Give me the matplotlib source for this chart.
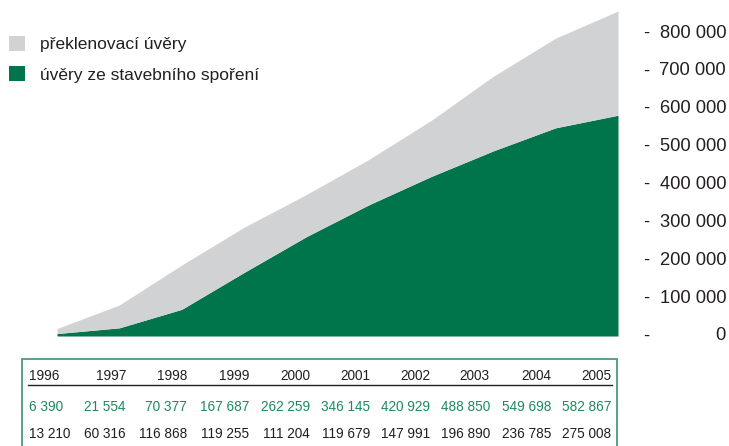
import matplotlib
matplotlib.use("Agg")
import matplotlib.pyplot as plt
from matplotlib.patches import Patch, Rectangle
from matplotlib.lines import Line2D
from matplotlib.transforms import blended_transform_factory

plt.rcParams["font.family"] = ["Liberation Sans", "DejaVu Sans"]

years = [1996, 1997, 1998, 1999, 2000, 2001, 2002, 2003, 2004, 2005]
stavebni = [6390, 21554, 70377, 167687, 262259, 346145, 420929, 488850, 549698, 582867]
preklenovaci = [13210, 60316, 116868, 119255, 111204, 119679, 147991, 196890, 236785, 275008]
ytick_values = [0, 100000, 200000, 300000, 400000, 500000, 600000, 700000, 800000, 900000]
series_labels = ["překlenovací úvěry", "úvěry ze stavebního spoření"]

GREEN = "#00744a"
GREY = "#d1d2d4"
TEXT_GREEN = "#1e8a5c"
FRAME = "#4a9c7c"
INK = "#231f20"

W, H = 729, 446
fig = plt.figure(figsize=(W / 100, H / 100), dpi=100)


def fx(px):
    return px / W


def fy(py):
    return 1 - py / H


# plot area: 1996 at x=57 px, 2005 at x=618 px; baseline at y=341 px
ax = fig.add_axes([fx(57), fy(341), fx(618) - fx(57), fy(0) - fy(341)])
ax.set_xlim(years[0], years[-1])
scale = (336 - 33) / 800000.0
ax.set_ylim(-5 / scale, 336 / scale)

total = [a + b for a, b in zip(stavebni, preklenovaci)]
ax.fill_between(years, 0, stavebni, color=GREEN, linewidth=0)
ax.fill_between(years, stavebni, total, color=GREY, linewidth=0)
ax.set_axis_off()

# right-hand value scale
tr = blended_transform_factory(fig.transFigure, ax.transData)
for v in ytick_values:
    ax.text(fx(643), v, "-", transform=tr, ha="left", va="center",
            fontsize=13.2, color=INK, clip_on=False)
    ax.text(fx(726), v, f"{v:,}".replace(",", " "), transform=tr,
            ha="right", va="center", fontsize=13.2, color=INK, clip_on=False)

# legend
handles = [Patch(facecolor=GREY, edgecolor="none"), Patch(facecolor=GREEN, edgecolor="none")]
fig.legend(handles, series_labels, loc="upper left", bbox_to_anchor=(fx(9), fy(36)),
           frameon=False, fontsize=12.5, handlelength=0.95, handleheight=0.95,
           handletextpad=0.85, labelspacing=0.8, labelcolor=INK,
           borderaxespad=0, borderpad=0)

# data table below the chart
fig.patches.append(Rectangle((fx(22), fy(470)), fx(617) - fx(22), fy(359) - fy(470),
                             transform=fig.transFigure, facecolor="none",
                             edgecolor=FRAME, linewidth=1.3))
fig.lines.append(Line2D([fx(28), fx(612)], [fy(384.5), fy(384.5)],
                        transform=fig.transFigure, color=INK, linewidth=1.0))

col_right = [None, 126, 187, 249, 310, 370, 430, 490, 551, 611]
rows = [
    ([str(y) for y in years], INK, 376),
    ([f"{v:,}".replace(",", " ") for v in stavebni], TEXT_GREEN, 407),
    ([f"{v:,}".replace(",", " ") for v in preklenovaci], INK, 434),
]
for labels, color, ypx in rows:
    for i, lab in enumerate(labels):
        if col_right[i] is None:
            fig.text(fx(29), fy(ypx), lab, ha="left", va="center", fontsize=9.8, color=color)
        else:
            fig.text(fx(col_right[i]), fy(ypx), lab, ha="right", va="center",
                     fontsize=9.8, color=color)

fig.savefig("out.png", dpi=100)
